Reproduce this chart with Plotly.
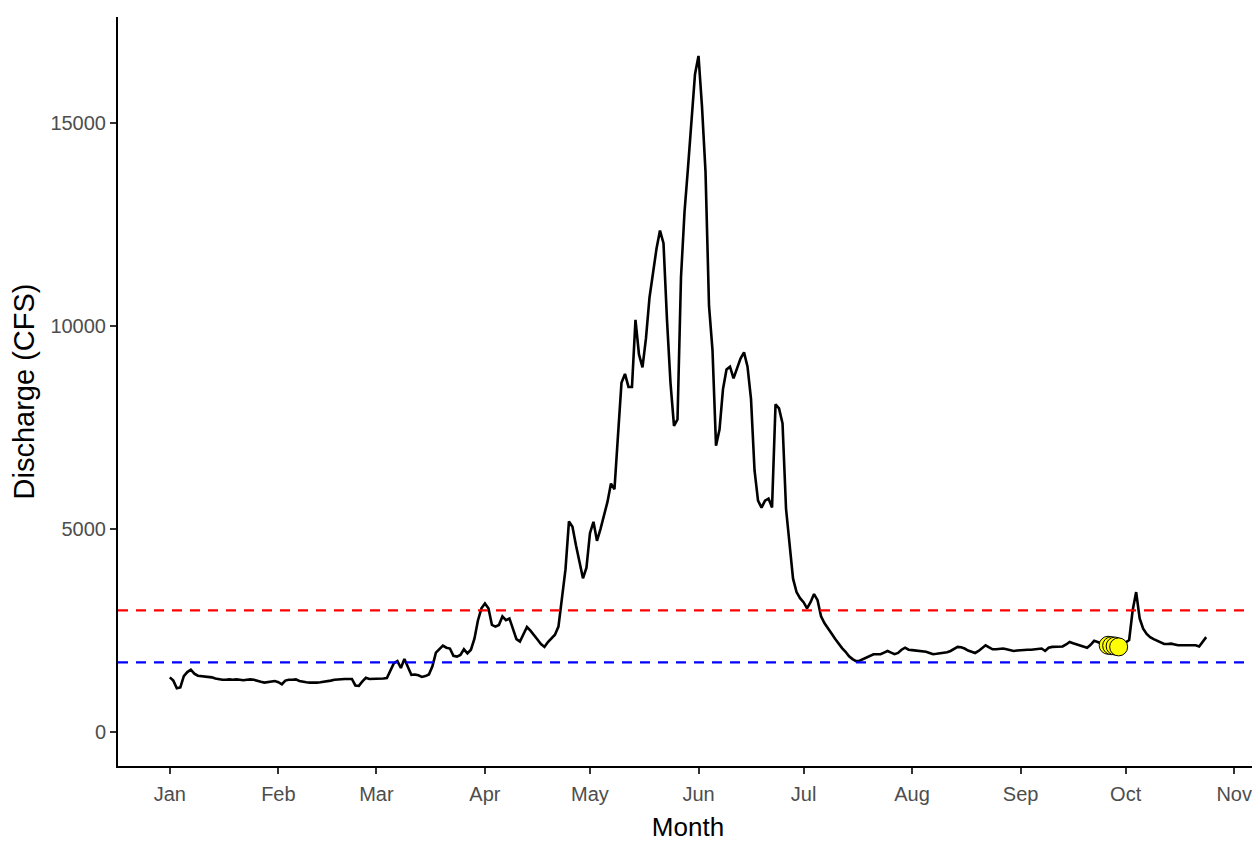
import datetime as dt
import plotly.graph_objects as go

# ---- data (daily discharge, CFS) ----
start_date = "2021-01-01"
discharge = [
    1350, 1270, 1080, 1100, 1380, 1480, 1540, 1440, 1390, 1380,
    1370, 1360, 1350, 1320, 1300, 1290, 1290, 1300, 1290, 1300,
    1290, 1280, 1290, 1300, 1290, 1260, 1240, 1220, 1230, 1250,
    1260, 1230, 1180, 1270, 1290, 1290, 1300, 1260, 1240, 1230,
    1220, 1215, 1220, 1230, 1240, 1250, 1270, 1290, 1300, 1300,
    1310, 1310, 1310, 1150, 1140, 1250, 1340, 1310, 1310, 1320,
    1320, 1320, 1330, 1520, 1700, 1750, 1580, 1800, 1600, 1410,
    1420, 1400, 1360, 1380, 1420, 1620, 1960, 2050, 2130, 2080,
    2060, 1880, 1860, 1900, 2040, 1940, 2030, 2300, 2750, 3050,
    3170, 3050, 2640, 2600, 2640, 2850, 2760, 2800, 2550, 2290,
    2230, 2420, 2590, 2500, 2400, 2280, 2170, 2100, 2220, 2300,
    2400, 2600, 3300, 4000, 5190, 5060, 4600, 4150, 3790, 4050,
    4900, 5180, 4710, 5000, 5350, 5670, 6120, 5980, 7300, 8600,
    8820, 8500, 8500, 10150, 9300, 8980, 9700, 10700, 11300, 11900,
    12350, 12040, 10150, 8600, 7540, 7700, 11200, 12800, 13900, 15000,
    16200, 16650, 15400, 13800, 10500, 9400, 7050, 7450, 8450, 8930,
    9000, 8710, 8950, 9200, 9350, 9000, 8200, 6450, 5700, 5530,
    5700, 5750, 5530, 8070, 7970, 7600, 5500, 4700, 3780, 3450,
    3300, 3200, 3050, 3200, 3400, 3250, 2850, 2680, 2570, 2430,
    2300, 2180, 2070, 1980, 1870, 1800, 1750, 1760, 1800, 1850,
    1900, 1920, 1920, 1920, 1960, 2000, 1960, 1920, 1950, 2030,
    2080, 2030, 2020, 2010, 2000, 2000, 1980, 1950, 1920, 1930,
    1940, 1950, 1970, 2000, 2050, 2100, 2090, 2060, 2010, 1970,
    1950, 2000, 2080, 2140, 2090, 2040, 2040, 2050, 2060, 2040,
    2020, 2000, 2010, 2020, 2030, 2030, 2030, 2040, 2050, 2060,
    2000, 2080, 2100, 2100, 2100, 2110, 2160, 2220, 2190, 2160,
    2140, 2110, 2080, 2150, 2250, 2220, 2180, 2150, 2140, 2130,
    2120, 2100, 2150, 2200, 2270, 3000, 3450, 2800, 2550, 2420,
    2340, 2290, 2250, 2220, 2170, 2170, 2180, 2160, 2140, 2140,
    2140, 2140, 2140, 2140, 2110, 2230, 2340,
]

point_dates = ["2021-09-26", "2021-09-27", "2021-09-28", "2021-09-29"]
point_values = [2140, 2130, 2120, 2100]

upper_threshold = 3000   # red dashed
lower_threshold = 1720   # blue dashed

month_ticks = ["2021-01-01", "2021-02-01", "2021-03-01", "2021-04-01",
               "2021-05-01", "2021-06-01", "2021-07-01", "2021-08-01",
               "2021-09-01", "2021-10-01", "2021-11-01"]
month_labels = ["Jan", "Feb", "Mar", "Apr", "May", "Jun", "Jul", "Aug",
                "Sep", "Oct", "Nov"]

y_tick_vals = [0, 5000, 10000, 15000]
y_tick_text = ["0", "5000", "10000", "15000"]

# ---- build ----
d0 = dt.date.fromisoformat(start_date)
dates = [d0 + dt.timedelta(days=i) for i in range(len(discharge))]

span = (dates[-1] - dates[0]).days
pad = 0.05 * span
x_range = [dt.datetime.combine(dates[0], dt.time()) - dt.timedelta(days=pad),
           dt.datetime.combine(dates[-1], dt.time()) + dt.timedelta(days=pad)]
y_lo = 0
y_hi = max(discharge)
y_pad = 0.05 * (y_hi - y_lo)
y_range = [y_lo - y_pad, y_hi + y_pad * 1.15]

fig = go.Figure()
fig.add_trace(go.Scatter(x=dates, y=discharge, mode="lines",
                         line=dict(color="black", width=2.6),
                         showlegend=False, hoverinfo="x+y"))
fig.add_hline(y=upper_threshold, line=dict(color="#FF0000", width=2.3, dash="10px,8px"))
fig.add_hline(y=lower_threshold, line=dict(color="#0000FF", width=2.3, dash="10px,8px"))
fig.add_trace(go.Scatter(x=point_dates, y=point_values, mode="markers",
                         marker=dict(color="#FFFF00", size=18,
                                     line=dict(color="black", width=1)),
                         showlegend=False))

axis_font = dict(family="Liberation Sans, Arial, sans-serif", size=20, color="#4D4D4D")
fig.update_layout(
    width=1252, height=834,
    paper_bgcolor="white", plot_bgcolor="white",
    margin=dict(l=110, r=2, t=9, b=76),
    font=dict(family="Liberation Sans, Arial, sans-serif"),
    xaxis=dict(
        type="date", range=x_range, automargin=False,
        tickvals=month_ticks, ticktext=month_labels,
        showgrid=False, zeroline=False,
        showline=True, linecolor="black", linewidth=2,
        ticks="outside", ticklen=6, tickwidth=1.5, tickcolor="#333333",
        tickfont=axis_font, ticklabelstandoff=3,
        title=dict(text="Month", font=dict(size=26, color="black"), standoff=14),
    ),
    yaxis=dict(
        range=y_range, automargin=False,
        tickvals=y_tick_vals, ticktext=y_tick_text,
        showgrid=False, zeroline=False,
        showline=True, linecolor="black", linewidth=2,
        ticks="outside", ticklen=6, tickwidth=1.5, tickcolor="#333333",
        tickfont=axis_font,
        title=dict(text="Discharge (CFS)", font=dict(size=29, color="black"), standoff=8),
    ),
)

fig.write_html("out.html")
